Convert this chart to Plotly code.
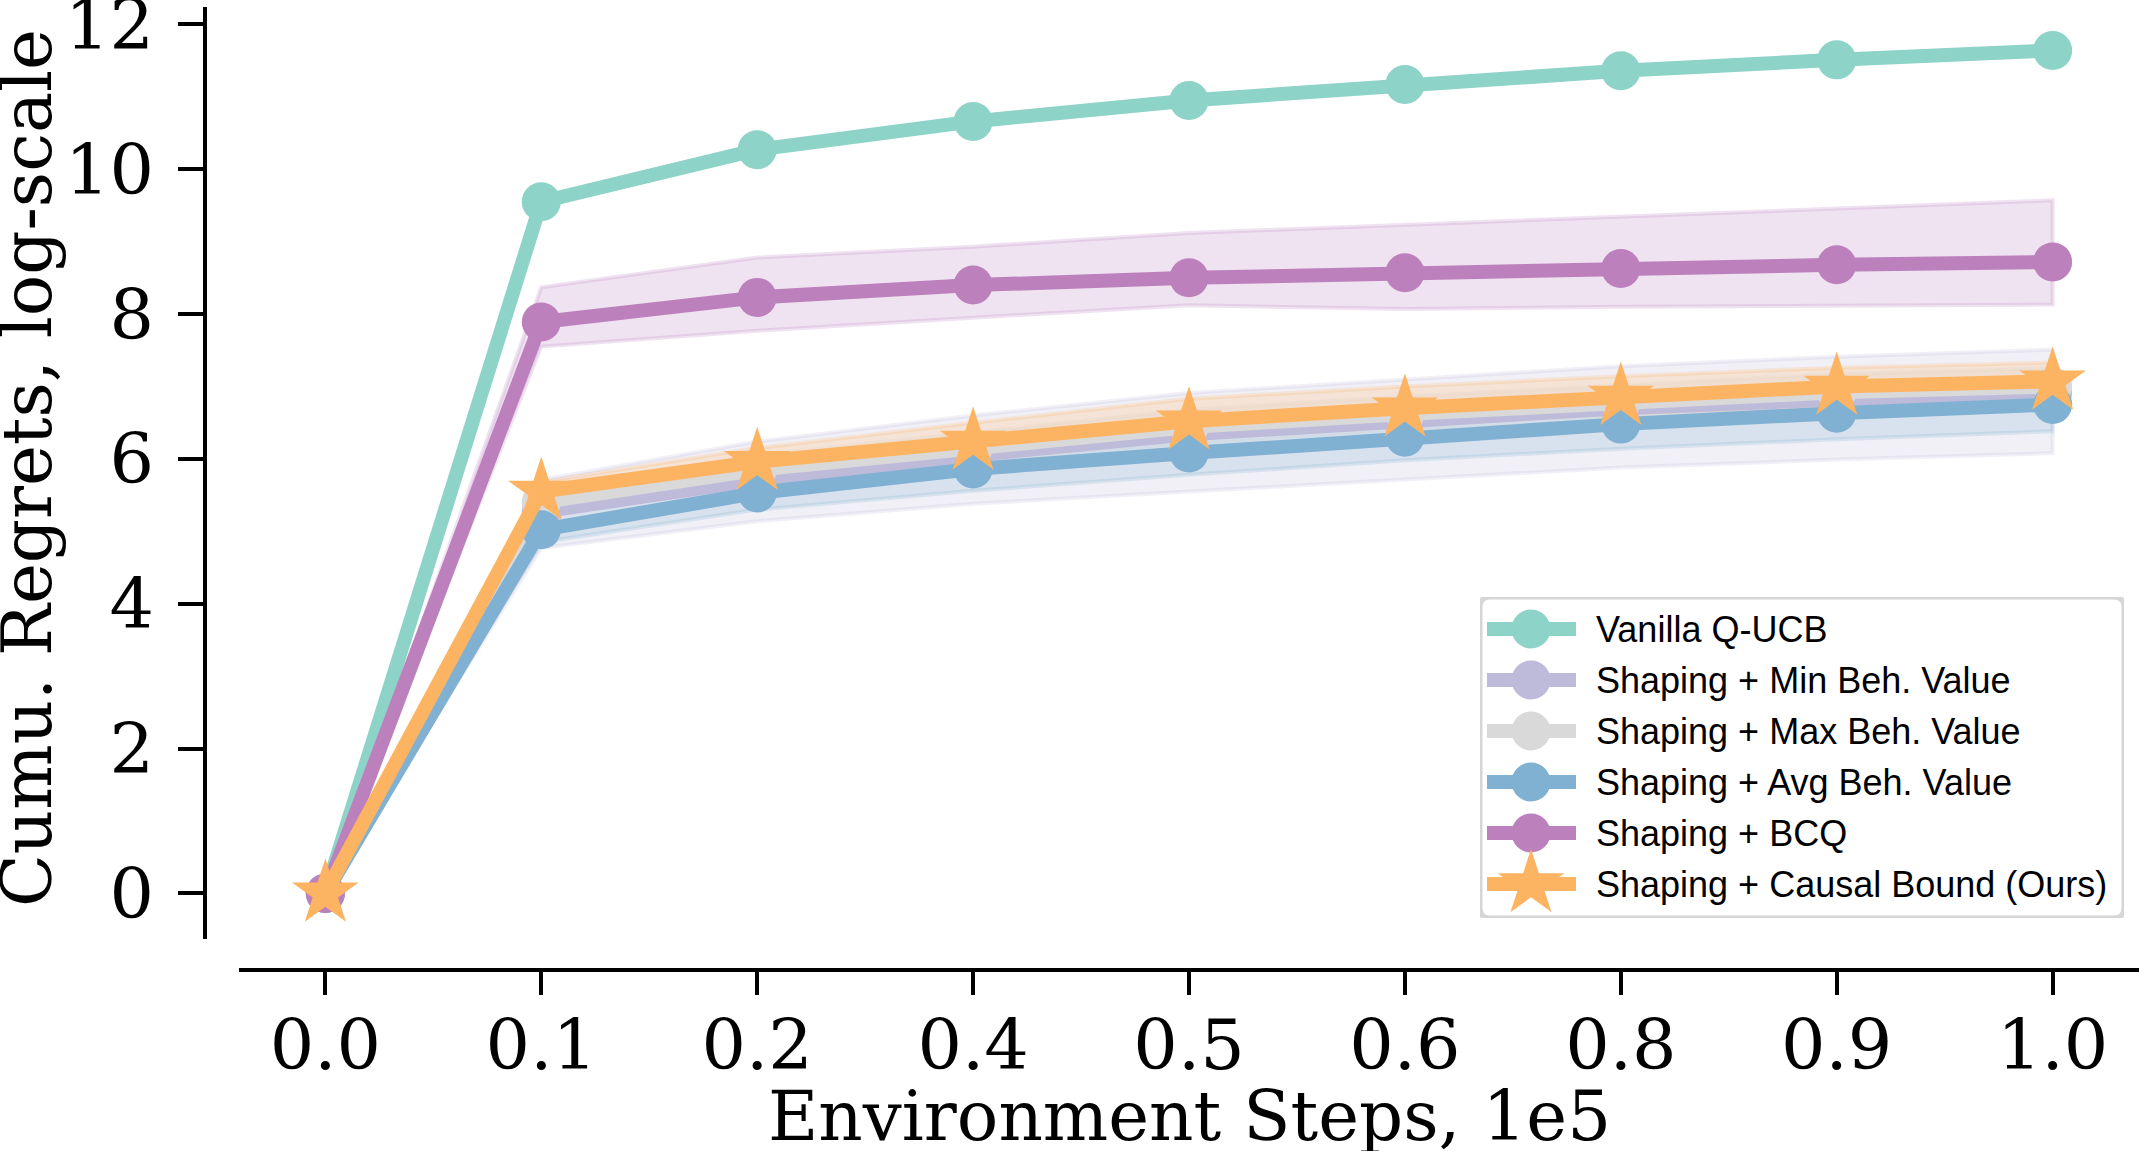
import plotly.graph_objs as go

W, H = 2139, 1151

steps = ["0.0", "0.1", "0.2", "0.4", "0.5", "0.6", "0.8", "0.9", "1.0"]

names = ["Vanilla Q-UCB", "Shaping + Min Beh. Value", "Shaping + Max Beh. Value",
         "Shaping + Avg Beh. Value", "Shaping + BCQ", "Shaping + Causal Bound (Ours)"]
colors = ["#8dd3c7", "#bebada", "#d9d9d9", "#80b1d3", "#bc80bd", "#fdb462"]
symbols = ["circle", "circle", "circle", "circle", "circle", "star"]

vanilla = [0, 9.55, 10.27, 10.66, 10.95, 11.17, 11.36, 11.51, 11.64]

min_beh = [0, 5.27, 5.71, 6.05, 6.34, 6.53, 6.70, 6.82, 6.91]
min_lo = [0, 4.77, 5.14, 5.38, 5.55, 5.72, 5.88, 5.99, 6.08]
min_hi = [0, 5.71, 6.24, 6.60, 6.91, 7.10, 7.28, 7.41, 7.51]

max_beh = [0, 5.40, 5.85, 6.15, 6.44, 6.62, 6.78, 6.92, 7.00]
max_lo = [0, 5.22, 5.65, 5.93, 6.20, 6.38, 6.54, 6.67, 6.75]
max_hi = [0, 5.58, 6.05, 6.37, 6.68, 6.86, 7.02, 7.17, 7.25]

avg_beh = [0, 5.02, 5.53, 5.86, 6.08, 6.30, 6.48, 6.63, 6.75]
avg_lo = [0, 4.85, 5.30, 5.56, 5.78, 5.98, 6.14, 6.27, 6.38]
avg_hi = [0, 5.20, 5.76, 6.12, 6.36, 6.57, 6.76, 6.92, 7.05]

bcq = [0, 7.89, 8.23, 8.40, 8.50, 8.57, 8.63, 8.68, 8.72]
bcq_lo = [0, 7.55, 7.77, 7.95, 8.12, 8.07, 8.10, 8.12, 8.13]
bcq_hi = [0, 8.37, 8.78, 8.93, 9.12, 9.23, 9.34, 9.46, 9.57]

causal = [0, 5.55, 5.96, 6.24, 6.52, 6.70, 6.86, 7.00, 7.07]
causal_lo = [0, 5.40, 5.80, 6.05, 6.30, 6.48, 6.62, 6.74, 6.82]
causal_hi = [0, 5.68, 6.15, 6.50, 6.83, 7.00, 7.14, 7.26, 7.33]

means = [vanilla, min_beh, max_beh, avg_beh, bcq, causal]
bands = [None, (min_lo, min_hi), (max_lo, max_hi), (avg_lo, avg_hi),
         (bcq_lo, bcq_hi), (causal_lo, causal_hi)]

SERIF = "DejaVu Serif"
SANS = "Liberation Sans, Arial"


def rgba(hexcol, a):
    h = hexcol.lstrip("#")
    return "rgba(%d,%d,%d,%.2f)" % (int(h[0:2], 16), int(h[2:4], 16), int(h[4:6], 16), a)


def px_x(p):
    return p / W


def px_y(p):
    return 1 - p / H


data = []

# shaded bands first, then the mean curves on top
for band, col in zip(bands, colors):
    if band is None:
        continue
    lo, hi = band
    data.append(go.Scatter(
        x=steps + steps[::-1],
        y=hi + lo[::-1],
        fill="toself",
        fillcolor=rgba(col, 0.22),
        line=dict(color=rgba(col, 0.22), width=4),
        mode="lines",
        hoverinfo="skip",
        showlegend=False,
    ))

for name, vals, col, sym in zip(names, means, colors, symbols):
    data.append(go.Scatter(
        x=steps,
        y=vals,
        name=name,
        mode="lines+markers",
        line=dict(color=col, width=14),
        marker=dict(symbol=sym, color=col, size=50 if sym == "star" else 39,
                    line=dict(width=0)),
        cliponaxis=False,
        showlegend=False,
    ))

# hand-made legend on its own hidden axes (pixel units)
box_w, box_h = 644, 321
row0, row_gap = 32, 51
for i, (name, col, sym) in enumerate(zip(names, colors, symbols)):
    yy = row0 + i * row_gap
    data.append(go.Scatter(
        x=[7, 96], y=[yy, yy], mode="lines",
        line=dict(color=col, width=14),
        xaxis="x2", yaxis="y2", hoverinfo="skip", showlegend=False,
    ))
    data.append(go.Scatter(
        x=[51], y=[yy], mode="markers",
        marker=dict(symbol=sym, color=col, size=50 if sym == "star" else 39,
                    line=dict(width=0)),
        xaxis="x2", yaxis="y2", cliponaxis=False, hoverinfo="skip", showlegend=False,
    ))

annotations = []
for i, name in enumerate(names):
    annotations.append(dict(
        x=114, y=row0 + i * row_gap, xref="x2", yref="y2",
        text=name, showarrow=False, xanchor="left", yanchor="middle",
        font=dict(family=SANS, size=36, color="black"),
    ))

annotations.append(dict(
    x=(239 + W) / 2 / W, y=px_y(1116), xref="paper", yref="paper",
    text="Environment Steps, 1e5", showarrow=False,
    xanchor="center", yanchor="middle",
    font=dict(family=SERIF, size=69, color="black"),
))
annotations.append(dict(
    x=px_x(27), y=px_y(468), xref="paper", yref="paper",
    text="Cumu. Regrets, log-scale", showarrow=False, textangle=-90,
    xanchor="center", yanchor="middle",
    font=dict(family=SERIF, size=69, color="black"),
))

r = 10
legend_path = ("M %d,0 L %d,0 Q %d,0 %d,%d L %d,%d Q %d,%d %d,%d L %d,%d Q 0,%d 0,%d L 0,%d Q 0,0 %d,0 Z"
               % (r, box_w - r, box_w, box_w, r, box_w, box_h - r, box_w, box_h,
                  box_w - r, box_h, r, box_h, box_h, box_h - r, r, r))

layout = go.Layout(
    width=W,
    height=H,
    margin=dict(l=0, r=0, t=0, b=0),
    paper_bgcolor="white",
    plot_bgcolor="white",
    showlegend=False,
    xaxis=dict(
        type="category",
        categoryorder="array",
        categoryarray=steps,
        domain=[px_x(239), 1.0],
        range=[-0.4, 8.4],
        anchor="free",
        position=px_y(970),
        showline=True,
        linecolor="black",
        linewidth=4,
        showgrid=False,
        zeroline=False,
        ticks="outside",
        ticklen=23,
        tickwidth=4,
        tickcolor="black",
        ticklabelstandoff=-10,
        ticklabeloverflow="allow",
        tickfont=dict(family=SERIF, size=70, color="black"),
        automargin=False,
    ),
    yaxis=dict(
        domain=[px_y(939), px_y(7)],
        range=[-0.63, 12.24],
        anchor="free",
        position=px_x(205),
        tickvals=[0, 2, 4, 6, 8, 10, 12],
        showline=True,
        linecolor="black",
        linewidth=4,
        showgrid=False,
        zeroline=False,
        ticks="outside",
        ticklen=25,
        tickwidth=4,
        tickcolor="black",
        ticklabelstandoff=10,
        ticklabeloverflow="allow",
        tickfont=dict(family=SERIF, size=70, color="black"),
        automargin=False,
    ),
    xaxis2=dict(
        domain=[px_x(1480), px_x(1480 + box_w)],
        range=[0, box_w],
        anchor="y2",
        visible=False,
    ),
    yaxis2=dict(
        domain=[px_y(597 + box_h), px_y(597)],
        range=[box_h, 0],
        anchor="x2",
        visible=False,
    ),
    shapes=[dict(
        type="path", path=legend_path, xref="x2", yref="y2",
        line=dict(color="#d6d6d6", width=5), fillcolor="white", layer="below",
    )],
    annotations=annotations,
)

fig = go.Figure(data=data, layout=layout)
# drop the default page margin so the figure sits at the window origin
fig.write_html("out.html", config={"displayModeBar": False},
               post_script="document.body.style.margin='0';document.body.style.overflow='hidden';")
